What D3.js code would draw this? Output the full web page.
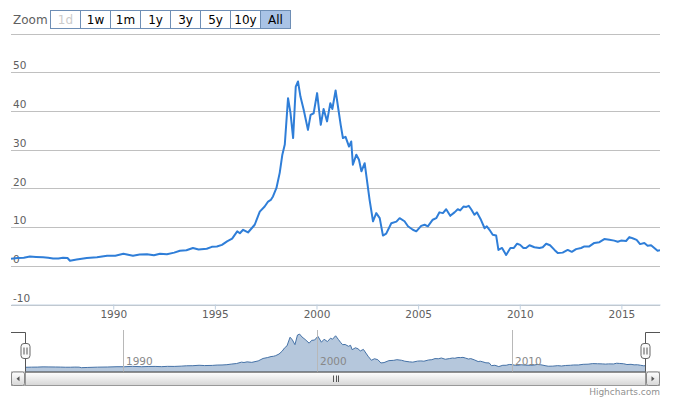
<!DOCTYPE html>
<html>
<head>
<meta charset="utf-8">
<script src="https://cdn.jsdelivr.net/npm/d3@7"></script>
<style>
  html, body { margin: 0; padding: 0; background: #fff; }
  svg { display: block; font-family: "DejaVu Sans", Verdana, Arial, sans-serif; }
</style>
</head>
<body>
<svg id="chart" width="684" height="397"></svg>
<script>
// ---- data (decimal year, value) ----
const years = [
  1984.97, 1985.3, 1985.6, 1985.9, 1986.2, 1986.55, 1986.8, 1987.04, 1987.3, 1987.53,
  1987.75, 1987.87, 1988.2, 1988.7, 1989.2, 1989.7, 1990.1, 1990.5, 1990.97, 1991.3,
  1991.66, 1992.0, 1992.3, 1992.64, 1993.0, 1993.28, 1993.6, 1993.92, 1994.2, 1994.6,
  1994.85, 1995.1, 1995.35, 1995.6, 1995.85, 1996.1, 1996.23, 1996.39, 1996.63, 1996.96,
  1997.1, 1997.21, 1997.45, 1997.62, 1997.75, 1997.86, 1998.03, 1998.19, 1998.32, 1998.44,
  1998.6, 1998.72, 1998.85, 1998.98, 1999.09, 1999.21, 1999.37, 1999.58, 1999.71, 1999.86,
  2000.03, 2000.21, 2000.35, 2000.52, 2000.68, 2000.78, 2000.94, 2001.08, 2001.19, 2001.3,
  2001.43, 2001.6, 2001.71, 2001.79, 2001.96, 2002.09, 2002.21, 2002.37, 2002.5, 2002.61,
  2002.78, 2002.94, 2003.11, 2003.27, 2003.43, 2003.68, 2003.93, 2004.09, 2004.33, 2004.5,
  2004.74, 2004.91, 2005.15, 2005.32, 2005.48, 2005.72, 2005.89, 2006.05, 2006.22, 2006.38,
  2006.58, 2006.79, 2006.95, 2007.07, 2007.23, 2007.37, 2007.49, 2007.61, 2007.77, 2007.89,
  2008.07, 2008.27, 2008.38, 2008.51, 2008.67, 2008.84, 2008.95, 2009.13, 2009.33, 2009.54,
  2009.71, 2009.87, 2010.02, 2010.18, 2010.31, 2010.48, 2010.72, 2010.97, 2011.13, 2011.3,
  2011.49, 2011.71, 2011.87, 2012.11, 2012.36, 2012.56, 2012.77, 2013.02, 2013.18, 2013.42,
  2013.67, 2013.92, 2014.16, 2014.41, 2014.65, 2014.82, 2014.98, 2015.23, 2015.39, 2015.55,
  2015.75, 2015.92, 2016.13, 2016.29, 2016.46, 2016.62, 2016.78, 2016.9
];
const values = [
  1.8, 2.0, 2.1, 2.4, 2.3, 2.2, 2.1, 1.9, 1.9, 2.1,
  2.0, 1.3, 1.6, 2.0, 2.2, 2.6, 2.6, 3.1, 2.6, 2.9,
  3.0, 2.7, 3.1, 3.0, 3.4, 3.9, 4.0, 4.6, 4.2, 4.4,
  4.9, 5.0, 5.4, 6.3, 7.0, 8.9, 8.4, 9.3, 8.6, 10.6,
  12.5, 14.0, 15.3, 16.6, 17.0, 17.9, 20.1, 24.0, 28.7, 31.3,
  43.3, 39.5, 33.0, 46.3, 47.6, 43.7, 40.3, 35.1, 39.0, 39.4,
  44.6, 36.4, 40.5, 37.3, 42.0, 40.5, 45.3, 40.3, 36.4, 33.0,
  33.3, 30.8, 32.1, 26.1, 28.7, 27.4, 24.4, 26.5, 21.4, 17.1,
  11.5, 13.6, 12.3, 7.8, 8.3, 11.0, 11.4, 12.3, 11.5, 10.2,
  9.3, 8.9, 10.3, 10.6, 10.2, 11.9, 12.3, 13.8, 13.6, 14.6,
  12.9, 13.8, 14.6, 14.3, 15.3, 15.2, 15.5, 14.6, 13.2, 13.8,
  12.1, 9.7, 10.2, 9.3, 8.0, 7.8, 4.1, 4.6, 2.8, 4.6,
  4.6, 5.7, 5.4, 4.6, 4.6, 5.3, 4.8, 4.6, 4.8, 5.7,
  5.3, 4.1, 3.3, 3.4, 4.1, 3.6, 4.3, 4.6, 5.0, 5.0,
  5.9, 6.1, 6.9, 6.7, 6.5, 6.2, 6.5, 6.4, 7.4, 7.1,
  6.7, 5.6, 5.9, 5.2, 5.3, 4.6, 3.9, 4.0
];
const yTicks = [-10, 0, 10, 20, 30, 40, 50, 60];
const yTickLabels = ["-10", "0", "10", "20", "30", "40", "50", ""];
const xTicks = [1990, 1995, 2000, 2005, 2010, 2015];
const xTickLabels = ["1990", "1995", "2000", "2005", "2010", "2015"];
const navTicks = [1990, 2000, 2010];
const navTickLabels = ["1990", "2000", "2010"];
const zoomButtons = ["1d", "1w", "1m", "1y", "3y", "5y", "10y", "All"];
const selectedButton = "All";
const disabledButtons = ["1d"];

const data = years.map((t, i) => ({ t, v: values[i] }));

// ---- layout ----
const svg = d3.select("#chart");
const plot = { left: 11, right: 660, top: 33.5, bottom: 304.5 };
const nav = { left: 25, right: 646, top: 332, bottom: 371.5 };
const scroll = { left: 11, right: 660, top: 371.5, bottom: 386 };

const x = d3.scaleLinear().domain([years[0], years[years.length - 1]]).range([plot.left, plot.right]);
const y = d3.scaleLinear().domain([-10, 60]).range([plot.bottom, plot.top]);

const labelColor = "#606060";
const gridColor = "#C0C0C0";
const axisColor = "#C0D0E0";
const fs = 10.5;

// ---- range selector ----
const rs = svg.append("g");
rs.append("text").attr("x", 13).attr("y", 23.5).attr("fill", labelColor)
  .attr("font-size", 12).text("Zoom");
const bx = d3.scaleBand().domain(zoomButtons).range([50, 290]).paddingInner(0);
zoomButtons.forEach(b => {
  const g = rs.append("g");
  const sel = b === selectedButton;
  const dis = disabledButtons.includes(b);
  g.append("rect").attr("x", bx(b) + 0.5).attr("y", 10.5).attr("width", bx.bandwidth())
    .attr("height", 18).attr("fill", sel ? "#a9c3e6" : "#fff")
    .attr("stroke", "#6e8eb5").attr("stroke-width", 1);
  g.append("text").attr("x", bx(b) + bx.bandwidth() / 2 + 0.5).attr("y", 24)
    .attr("text-anchor", "middle").attr("font-size", 12)
    .attr("fill", dis ? "#cccccc" : "#000").text(b);
});

// ---- grid lines & y labels ----
const grid = svg.append("g");
yTicks.forEach((v, i) => {
  grid.append("line").attr("x1", plot.left).attr("x2", plot.right)
    .attr("y1", Math.round(y(v)) + 0.5).attr("y2", Math.round(y(v)) + 0.5)
    .attr("stroke", gridColor).attr("stroke-width", 1);
  if (yTickLabels[i]) {
    grid.append("text").attr("x", 13).attr("y", y(v) - 2.8)
      .attr("font-size", fs).attr("fill", labelColor).text(yTickLabels[i]);
  }
});

// ---- x axis ----
const xAxis = d3.axisBottom(x).tickValues(xTicks)
  .tickFormat((d, i) => xTickLabels[i]).tickSize(5).tickSizeOuter(0);
const xa = svg.append("g").attr("transform", `translate(0,${plot.bottom})`).call(xAxis);
xa.select(".domain").attr("stroke", axisColor);
xa.selectAll(".tick line").attr("stroke", axisColor);
xa.selectAll(".tick text").attr("fill", labelColor).attr("font-size", fs)
  .attr("font-family", "DejaVu Sans, Verdana, sans-serif").attr("dy", null).attr("y", 13.5);

// ---- main series ----
svg.append("clipPath").attr("id", "clipMain").append("rect")
  .attr("x", plot.left).attr("y", plot.top).attr("width", plot.right - plot.left)
  .attr("height", plot.bottom - plot.top);
const line = d3.line().x(d => x(d.t)).y(d => y(d.v)).curve(d3.curveLinear);
svg.append("path").datum(data).attr("clip-path", "url(#clipMain)")
  .attr("d", line).attr("fill", "none").attr("stroke", "#2f7ed8")
  .attr("stroke-width", 2).attr("stroke-linejoin", "round");

// ---- navigator ----
const nx = d3.scaleLinear().domain(x.domain()).range([nav.left, nav.right]);
const ny = d3.scaleLinear().domain([-4, 50.5]).range([nav.bottom, nav.top]);
const ng = svg.append("g");
const area = d3.area().x(d => nx(d.t)).y0(nav.bottom).y1(d => ny(d.v));
ng.append("path").datum(data).attr("d", area).attr("fill", "#4572A7").attr("fill-opacity", 0.4);
ng.append("path").datum(data).attr("d", d3.line().x(d => nx(d.t)).y(d => ny(d.v)))
  .attr("fill", "none").attr("stroke", "#4572A7").attr("stroke-width", 1);
navTicks.forEach((t, i) => {
  const px = Math.round(nx(t)) + 0.5;
  ng.append("line").attr("x1", px).attr("x2", px).attr("y1", nav.top - 2).attr("y2", nav.bottom)
    .attr("stroke", "#b8b8b8").attr("stroke-width", 1);
  ng.append("text").attr("x", px + 2.5).attr("y", nav.bottom - 6.5).attr("font-size", fs)
    .attr("fill", "#888").text(navTickLabels[i]);
});

// outline
const outlineColor = "#555";
ng.append("path").attr("d",
  `M${scroll.left},${nav.top + 0.5} L${nav.left + 0.5},${nav.top + 0.5} L${nav.left + 0.5},${nav.bottom}` +
  ` M${nav.right - 0.5},${nav.bottom} L${nav.right - 0.5},${nav.top + 0.5} L${scroll.right},${nav.top + 0.5}`)
  .attr("fill", "none").attr("stroke", outlineColor).attr("stroke-width", 1);

// ---- scrollbar ----
const sb = svg.append("g");
const grad = svg.append("defs").append("linearGradient").attr("id", "thumbGrad")
  .attr("x1", 0).attr("y1", 0).attr("x2", 0).attr("y2", 1);
grad.append("stop").attr("offset", "0%").attr("stop-color", "#ffffff");
grad.append("stop").attr("offset", "100%").attr("stop-color", "#d6d6d6");
sb.append("rect").attr("x", scroll.left + 0.5).attr("y", scroll.top + 0.5)
  .attr("width", scroll.right - scroll.left - 1).attr("height", scroll.bottom - scroll.top - 1)
  .attr("fill", "#eeeeee").attr("stroke", "#aaaaaa");
sb.append("rect").attr("x", nav.left + 0.5).attr("y", scroll.top + 0.5)
  .attr("width", nav.right - nav.left - 1).attr("height", scroll.bottom - scroll.top - 1)
  .attr("fill", "url(#thumbGrad)").attr("stroke", "#999");
[[scroll.left, nav.left, -1], [nav.right, scroll.right, 1]].forEach(([a, b, dir]) => {
  sb.append("rect").attr("x", a + 0.5).attr("y", scroll.top + 0.5).attr("width", b - a - 1)
    .attr("height", scroll.bottom - scroll.top - 1).attr("rx", 2)
    .attr("fill", "url(#thumbGrad)").attr("stroke", "#888");
  const cx = (a + b) / 2, cy = (scroll.top + scroll.bottom) / 2;
  sb.append("path").attr("d", dir < 0
      ? `M${cx + 1.5},${cy - 2.5} L${cx - 1.5},${cy} L${cx + 1.5},${cy + 2.5} Z`
      : `M${cx - 1.5},${cy - 2.5} L${cx + 1.5},${cy} L${cx - 1.5},${cy + 2.5} Z`)
    .attr("fill", "#555");
});
const gx = (nav.left + nav.right) / 2;
[-2.5, 0, 2.5].forEach(o => {
  sb.append("line").attr("x1", Math.round(gx + o) + 0.5).attr("x2", Math.round(gx + o) + 0.5)
    .attr("y1", scroll.top + 4).attr("y2", scroll.bottom - 4)
    .attr("stroke", "#555").attr("stroke-width", 1);
});
ng.raise();
sb.append("line").attr("x1", nav.left).attr("x2", nav.right).attr("y1", nav.bottom + 0.5)
  .attr("y2", nav.bottom + 0.5).attr("stroke", outlineColor);

// handles
[nav.left + 0.5, nav.right - 0.5].forEach(hx => {
  const h = svg.append("g");
  h.append("rect").attr("x", hx - 4.5).attr("y", 343.5).attr("width", 9).attr("height", 15)
    .attr("rx", 3).attr("fill", "#fafafa").attr("stroke", "#666");
  [-1.5, 1.5].forEach(o => {
    h.append("line").attr("x1", hx + o).attr("x2", hx + o).attr("y1", 347.5).attr("y2", 354.5)
      .attr("stroke", "#555");
  });
});

// credits
svg.append("text").attr("x", 660).attr("y", 395).attr("text-anchor", "end")
  .attr("font-size", 9).attr("fill", "#909090").text("Highcharts.com");
</script>
</body>
</html>
